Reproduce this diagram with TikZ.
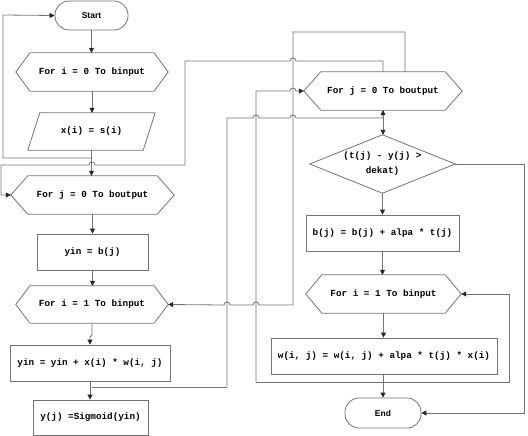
\documentclass[tikz,border=0pt]{standalone}
\usepackage{fontspec}
\setmainfont{Liberation Mono}
\newfontfamily\termfont{Liberation Sans}
\usetikzlibrary{arrows.meta}
\begin{document}
\begin{tikzpicture}[x=1pt,y=-1pt,
  line/.style={draw=black!55, line width=0.8pt},
  arr/.style={line, -{Triangle[length=5pt,width=5pt,color=black!85]}},
  box/.style={rectangle, inner sep=0pt, font=\fontsize{9.3}{15}\selectfont\bfseries, align=center},
  boxd/.style={box, line},
  term/.style={box, line, rounded corners=14pt, font=\termfont\fontsize{8.5}{10}\selectfont\bfseries}
]
\useasboundingbox (0,0) rectangle (528,436);

% left column
\node[term, minimum width=73pt, minimum height=29pt] (start) at (91.5,15.5) {Start};
\node[box, minimum width=152pt, minimum height=38pt] (fi0) at (92,72) {For i = 0 To binput};
\node[box, minimum width=127pt, minimum height=37pt] (xs) at (91.5,131.5) {x(i) = s(i)};
\node[box, minimum width=163pt, minimum height=38pt] (fjL) at (92.5,195) {For j = 0 To boutput};
\node[boxd, minimum width=111pt, minimum height=36pt] (yinb) at (92.5,252) {yin = b(j)};
\node[box, minimum width=152pt, minimum height=37pt] (fiL) at (92,304.5) {For i = 1 To binput};
\node[boxd, minimum width=160pt, minimum height=36pt] (yinp) at (90,363) {yin = yin + x(i) * w(i, j)};
\node[boxd, minimum width=115pt, minimum height=35pt] (yj) at (90.5,417.5) {y(j) =Sigmoid(yin)};

% right column
\node[box, minimum width=158pt, minimum height=38pt] (fjR) at (383,91) {For j = 0 To boutput};
\node[box, minimum width=145pt, minimum height=58pt] (dec) at (382.5,164) {(t(j) - y(j) >\\dekat)};
\node[boxd, minimum width=153pt, minimum height=36pt] (bj) at (382.5,233) {b(j) = b(j) + alpa * t(j)};
\node[box, minimum width=155pt, minimum height=38pt] (fiR) at (383.5,294) {For i = 1 To binput};
\node[boxd, minimum width=226pt, minimum height=36pt] (wu) at (384,356) {w(i, j) = w(i, j) + alpa * t(j) * x(i)};
\node[term, minimum width=76pt, minimum height=30pt] (endn) at (383,413) {End};

% outlines of hexagons, parallelogram, diamond
\foreach \n/\d in {fi0/14,fjL/17,fiL/14,fjR/17,fiR/16}
  \draw[line] ([xshift=\d pt]\n.north west) -- ([xshift=-\d pt]\n.north east) -- (\n.east)
    -- ([xshift=-\d pt]\n.south east) -- ([xshift=\d pt]\n.south west) -- (\n.west) -- cycle;
\draw[line] ([xshift=12pt]xs.north west) -- (xs.north east) -- ([xshift=-12pt]xs.south east) -- (xs.south west) -- cycle;
\draw[line] (dec.north) -- (dec.east) -- (dec.south) -- (dec.west) -- cycle;

% junction coordinates
\coordinate (l1) at (92,158);
\coordinate (g0) at (256,382);
\coordinate (h0) at (92,387);
\coordinate (h1) at (227,387);

% straight connectors
\draw[arr] (start.south) -- (start.south |- fi0.north);
\draw[arr] (fi0.south) -- (fi0.south |- xs.north);
\draw[arr] (xs.south) -- (xs.south |- fjL.north);
\draw[arr] (fjL.south) -- (fjL.south |- yinb.north);
\draw[arr] (yinb.south) -- (yinb.south |- fiL.north);
\draw[arr] (fiL.south) -- (92,335) -- (90,337) -- (yinp.north);
\draw[arr] (yinp.south) -- (yinp.south |- yj.north);
\draw[arr] (fjR.south) -- (fjR.south |- dec.north);
\draw[arr] (dec.south) -- (dec.south |- bj.north);
\draw[arr] (bj.south) -- (bj.south |- fiR.north);
\draw[arr] (fiR.south) -- (fiR.south |- wu.north);
\draw[arr] (wu.south -| endn.north) -- (endn.north);

% loop back to Start
\draw[arr] (l1) -- (3,158) -- (3,15) -- (start.west);

% from right For j top to left For j
\draw[arr] (fjR.north) -- (383,61) -- (296,61) .. controls (296,57) and (290,57) .. (290,61)
  -- (185,61) -- (185,165) -- (95,165) .. controls (95,161) and (89,161) .. (89,165)
  -- (1,165) -- (1,195) -- (fjL.west);

% from right For j top to left For i
\draw[arr] ([xshift=22pt]fjR.north) -- (405,32) -- (293,32) -- (293,305)
  -- (259,305) .. controls (259,301) and (253,301) .. (253,305)
  -- (230,305) .. controls (230,301) and (224,301) .. (224,305) -- (fiL.east);

% loop around w
\draw[arr] (g0) -- (256,91) -- (290,91) .. controls (290,87) and (296,87) .. (296,91) -- (fjR.west);
\draw[arr] (g0) -- (509,382) -- (509,294) -- (fiR.east);

% from y(j) to right For j bottom
\draw[line] (h0) -- (h1);
\draw[arr] (h1) -- (227,118) -- (253,118) .. controls (253,114) and (259,114) .. (259,118)
  -- (290,118) .. controls (290,114) and (296,114) .. (296,118) -- (383,118) -- (fjR.south);

% decision to End
\draw[arr] (dec.east) -- (524,164) -- (524,413) -- (endn.east);
\end{tikzpicture}
\end{document}
